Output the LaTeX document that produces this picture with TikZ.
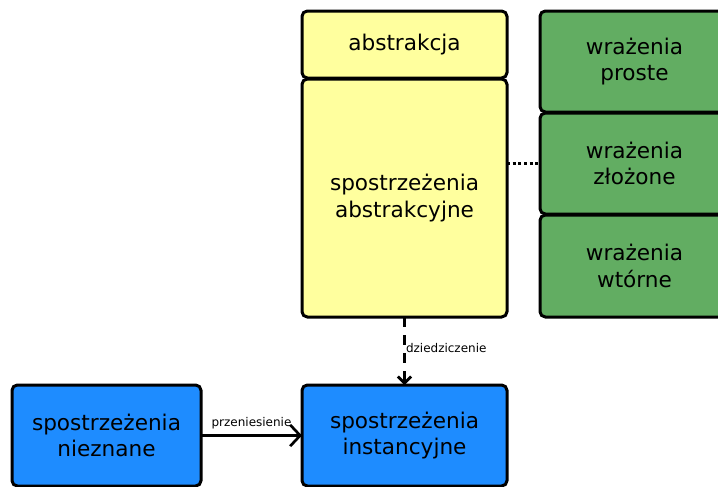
\documentclass[tikz,border=0pt]{standalone}
\usepackage{fontspec}
\setmainfont{DejaVu Sans}
\usetikzlibrary{arrows.meta}
\definecolor{boxyellow}{HTML}{FFFF9E}
\definecolor{boxgreen}{HTML}{62AD62}
\definecolor{boxblue}{HTML}{1E8CFF}

\begin{document}
\begin{tikzpicture}[x=0.75pt, y=-0.75pt,
                    every node/.style={font=\fontsize{16.2}{20}\selectfont, align=center},
                    card/.style={draw=black, line width=2.25pt, rounded corners=4pt,
                                 inner sep=0pt, outer sep=0pt},
                    smalllabel/.style={font=\fontsize{9}{11}\selectfont, inner sep=1pt}]

  %% ramka obrazka
  \clip (0,0) rectangle (718,486);
  \fill[white] (0,0) rectangle (718,486);

  %% blok abstrakcji
  \node[card, fill=boxyellow, minimum width=153.75pt, minimum height=50.25pt]
       (abstr) at (404.5,44.5) {abstrakcja};
  \node[card, fill=boxyellow, minimum width=153.75pt, minimum height=178.5pt]
       (abstrsp) at (404.5,198) {spostrzeżenia\\abstrakcyjne};

  %% wrażenia
  \node[card, fill=boxgreen, minimum width=141.75pt, minimum height=75.75pt]
       (proste) at (634.5,61.5) {wrażenia\\proste};
  \node[card, fill=boxgreen, minimum width=141.75pt, minimum height=75.75pt]
       (zlozone) at (634.5,163.5) {wrażenia\\złożone};
  \node[card, fill=boxgreen, minimum width=141.75pt, minimum height=76.5pt]
       (wtorne) at (634.5,266) {wrażenia\\wtórne};

  %% spostrzeżenia dolne
  \node[card, fill=boxblue, minimum width=141.75pt, minimum height=75.75pt]
       (nieznane) at (106.5,435.5) {spostrzeżenia\\nieznane};
  \node[card, fill=boxblue, minimum width=153.75pt, minimum height=75.75pt]
       (inst) at (404.5,435.5) {spostrzeżenia\\instancyjne};

  %% połączenia
  \draw[line width=2.25pt, dotted] (abstrsp.east |- zlozone.west) -- (zlozone.west);
  \draw[line width=2.25pt, dash pattern=on 7.5pt off 6pt,
        -{Straight Barb[length=5pt, width=10pt, line width=2pt]}]
       (abstrsp.south) -- (inst.north)
       node[smalllabel, right, inner sep=0pt, pos=0.45] {dziedziczenie};
  \draw[line width=2.25pt, -{Straight Barb[length=7.5pt, width=16pt, line width=2pt]}]
       (nieznane.east) -- (inst.west)
       node[smalllabel, above, inner sep=4pt, pos=0.5] {przeniesienie};

\end{tikzpicture}
\end{document}
